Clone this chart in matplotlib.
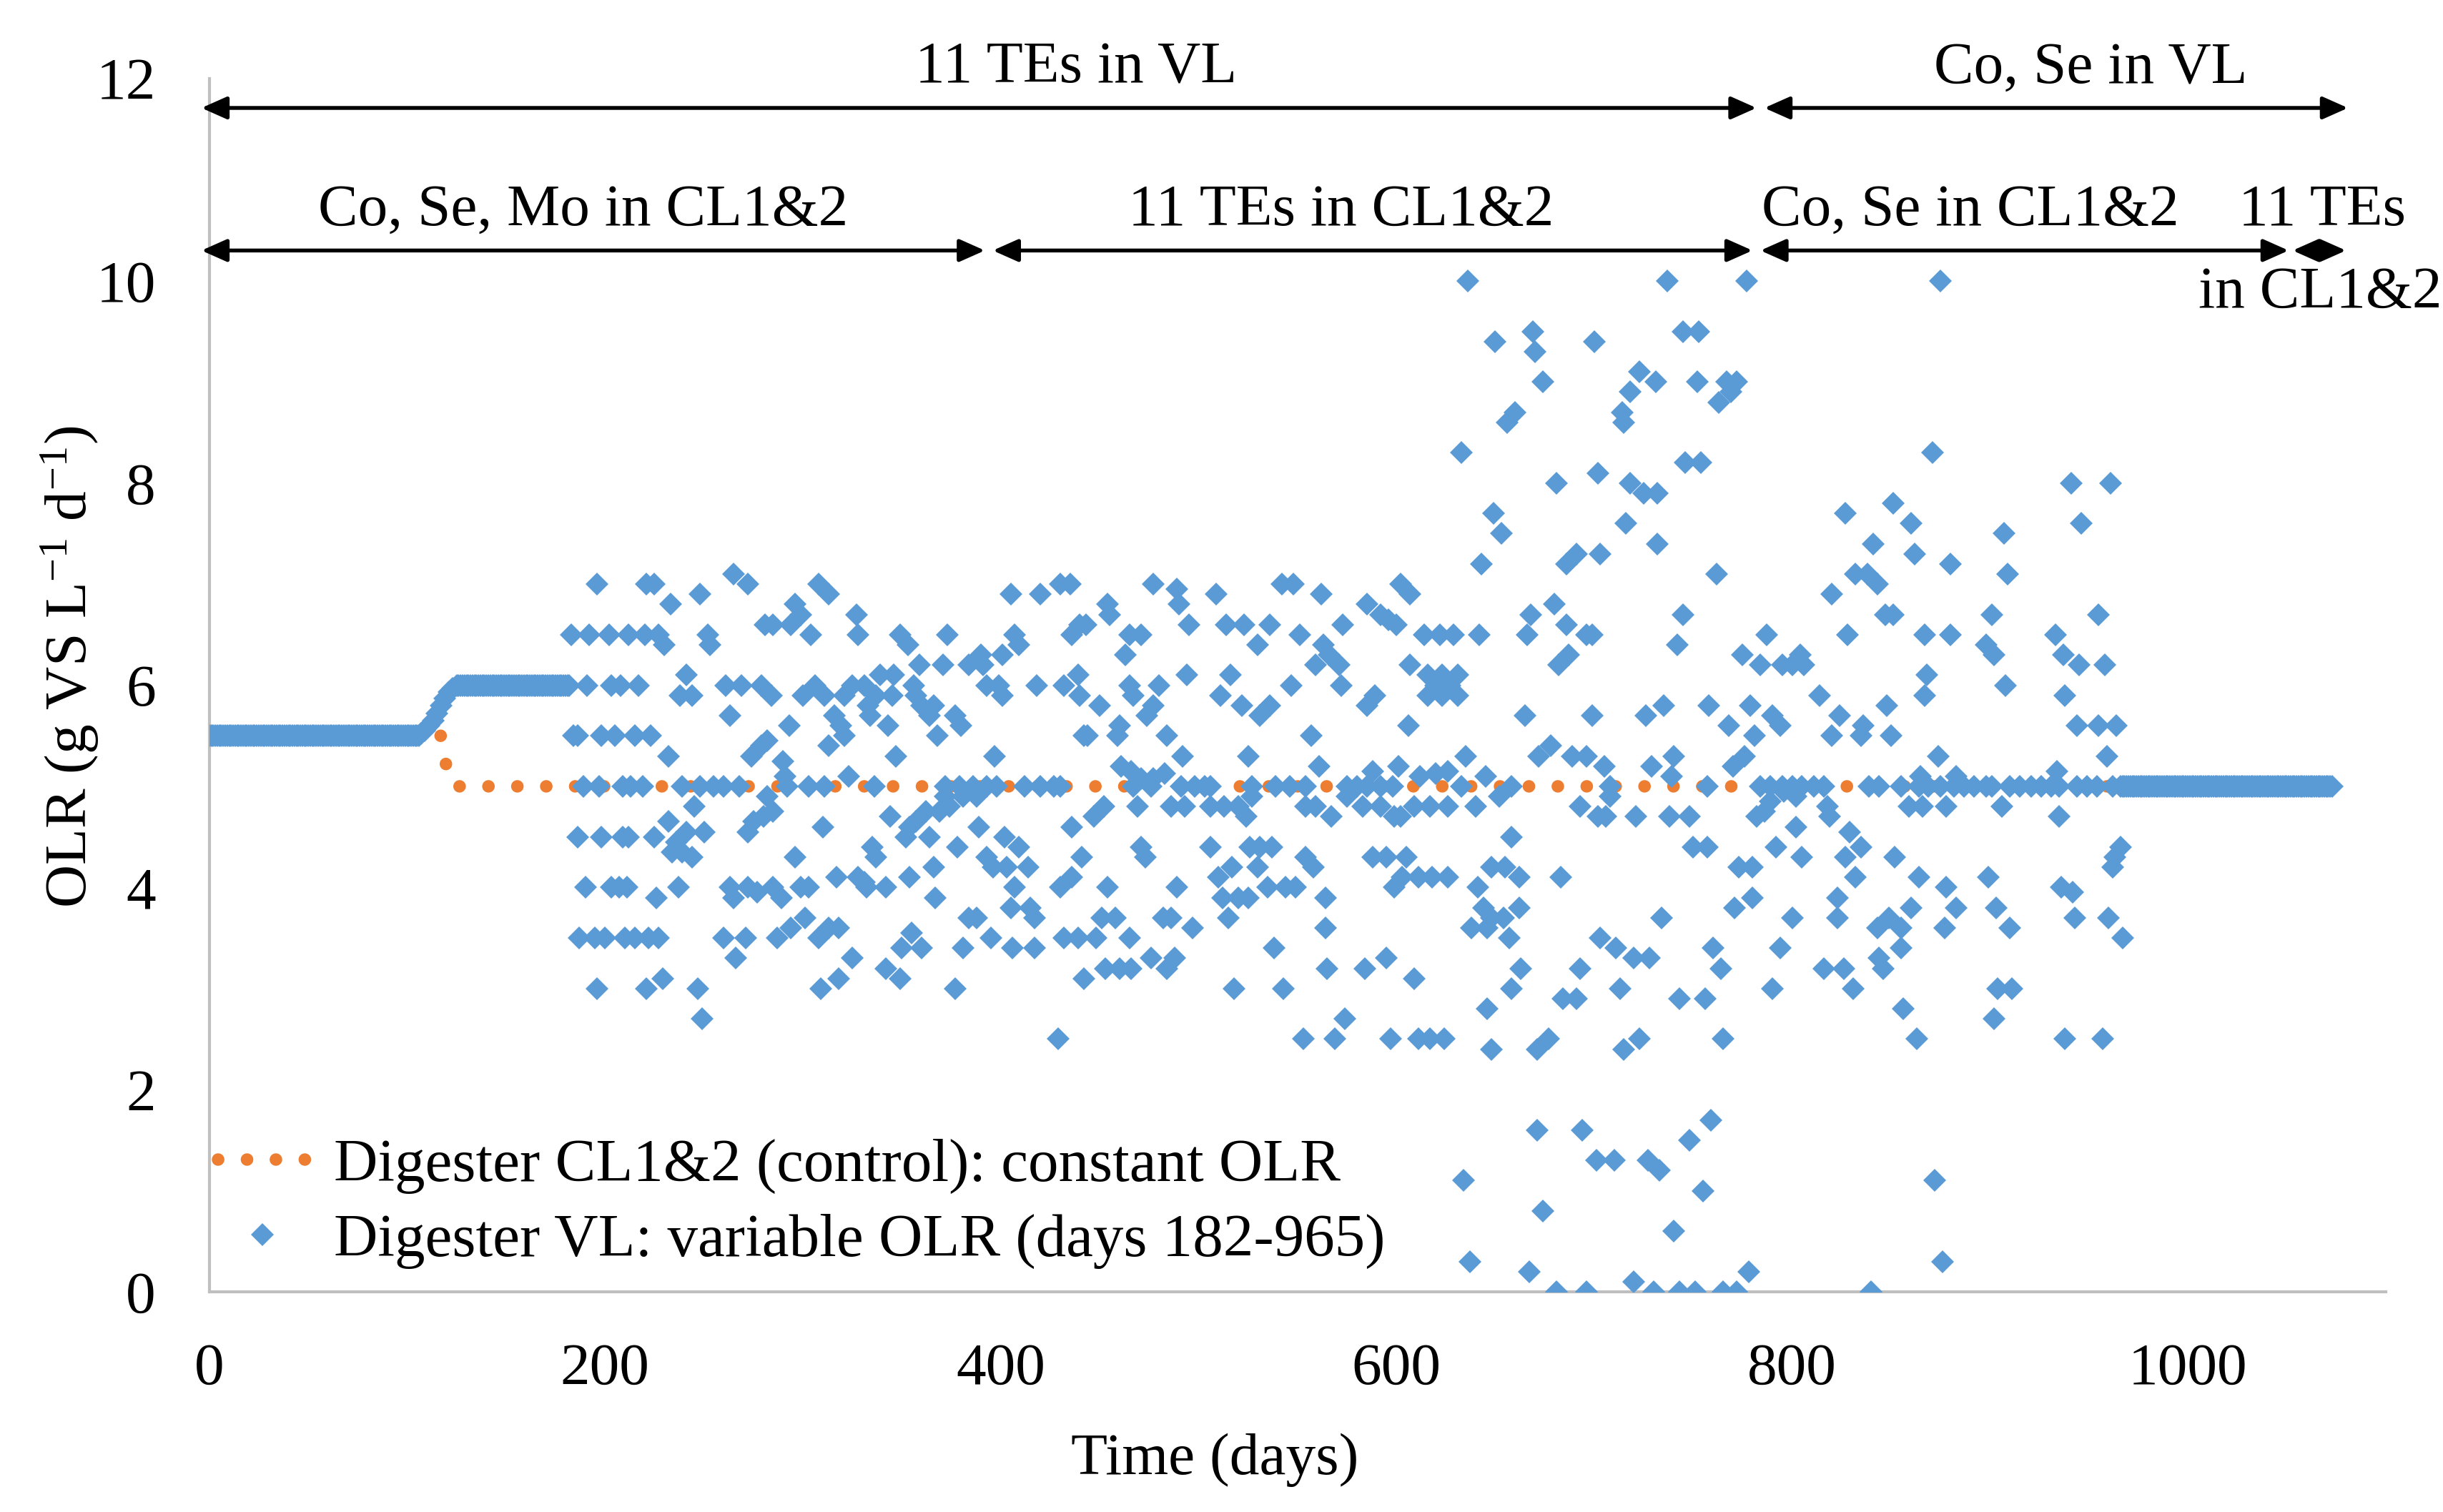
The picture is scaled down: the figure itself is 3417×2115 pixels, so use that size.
import numpy as np
import matplotlib
matplotlib.use("Agg")
import matplotlib.pyplot as plt

plt.rcParams['font.family'] = ['Liberation Serif', 'DejaVu Serif']
plt.rcParams['mathtext.fontset'] = 'custom'
plt.rcParams['mathtext.rm'] = 'Liberation Serif'
plt.rcParams['mathtext.it'] = 'Liberation Serif:italic'

BLUE = '#5B9BD5'
ORANGE = '#ED7D31'

# control digesters CL1&2 (constant OLR)
ctrl_days = [0, 117, 119, 124, 1073]
ctrl_olr = [5.5, 5.5, 5.25, 5.0, 5.0]

# digester VL: daily constant stretches (first day, last day, OLR)
vl_flat = [(0, 106, 5.5), (126, 182, 6.0), (966, 1073, 5.0)]
vl_ramp_days = [107, 109, 111, 113, 115, 117, 119, 121, 123, 125]
vl_ramp_olr = [5.52, 5.55, 5.6, 5.65, 5.72, 5.8, 5.87, 5.93, 5.97, 6.0]

# days of the variable period that sit at 5.0
vl_band_days = [189, 197, 209, 213, 219, 239, 248, 255, 260, 268, 292, 303, 311, 336,
                372, 379, 386, 393, 398, 412, 420, 427, 430,
                467, 476, 491, 498, 503, 506, 527, 539, 546, 554, 575, 580, 585, 592,
                598, 633, 658,
                708, 757, 784, 789, 795, 800, 805, 811, 816, 839, 844, 855, 864, 869,
                875, 882, 887, 892, 898, 901, 910, 915, 921, 926, 931, 935, 944, 949,
                954, 962]

# variable period
vl_var_days = [
    196, 221, 225, 233, 248, 265, 272, 308, 313, 405, 420, 430, 435, 296, 299, 327, 281, 285, 294,
    183, 192, 202, 212, 220, 227, 230, 252, 253, 304, 328, 349, 353, 373, 407, 409, 436, 440,
    359, 371, 384, 390, 391, 401, 191, 203, 208, 217, 241, 238, 244, 261, 269, 279, 284, 300,
    306, 311, 321, 325, 331, 339, 346, 337, 333, 345, 334, 343, 356, 357, 360, 366, 364, 368,
    377, 380, 393, 399, 401, 418, 432, 439, 440, 263, 293, 316, 319, 321, 313,
    184, 186, 198, 205, 215, 223, 232, 279, 282, 274, 290, 291, 347, 397, 323, 442,
    282, 245, 186, 198, 209, 212, 225, 232, 236, 234, 239, 244, 241, 250, 272, 275, 280, 285,
    310, 296, 344, 354, 357, 362, 352, 364, 369, 374, 372, 381, 388, 378, 389, 402, 409, 436,
    441, 335, 337, 317, 328, 331, 332, 342, 354, 366, 367, 393, 396, 403, 414, 407, 430, 436,
    190, 203, 207, 211, 226, 237, 263, 265, 272, 277, 285, 289, 299, 303, 405, 415, 417, 384, 388,
    187, 195, 200, 210, 215, 222, 227, 260, 271, 266, 287, 294, 301, 308, 313, 318, 325, 350,
    355, 360, 381, 395, 406, 417, 432, 439, 342, 349, 196, 221, 229, 247, 249, 309, 318, 377, 429, 442,
    636, 650, 669, 670, 700, 674, 660, 656, 633, 681, 702, 649, 653, 643, 691, 686, 703,
    477, 489, 490, 509, 542, 548, 562, 602, 607, 454, 455, 443, 465, 471, 463, 495, 514, 523,
    536, 530, 551, 573, 585, 592, 596, 600, 614, 622, 629, 642, 668, 666, 680, 686, 696, 699,
    687, 682, 563, 566, 571, 559, 572, 465, 467, 480, 494, 516, 511, 522, 536, 531, 547, 450,
    477, 474, 589, 585, 607, 616, 623, 631, 616, 623, 631, 620, 627, 606, 665, 699,
    444, 459, 460, 484, 492, 525, 557, 561, 461, 466, 471, 477, 483, 635, 601, 672, 678, 689, 696, 588, 612, 620, 626, 645,
    452, 447, 469, 486, 493, 506, 513, 520, 524, 527, 554, 559, 567, 575, 583, 592, 599, 602,
    609, 617, 626, 640, 652, 658, 693, 702, 471, 473, 454, 489, 506, 517, 510, 512, 520, 525,
    526, 531, 537, 530, 535, 544, 549, 554, 558, 564, 588, 595, 605, 599, 603, 611, 618, 626,
    648, 655, 662, 641, 683, 644, 648, 654, 662, 638, 646, 657, 703, 451, 458, 448, 465, 482,
    486, 497, 515, 538, 564, 453, 460, 466, 476, 484, 488, 518, 543, 565, 584, 595, 609, 663,
    658, 646, 693, 684, 691, 553, 569, 574, 597, 611, 617, 624, 648, 671, 677, 671, 694, 701,
    634, 674, 637, 667, 681, 696,
    737, 777, 875, 745, 753, 723, 731, 718, 714, 715, 752, 767, 772, 769, 763, 871, 746, 754,
    718, 725, 732, 716, 732, 762, 941, 961, 946, 827, 851, 860, 841, 862, 880, 907, 909, 832,
    838, 843, 820, 901, 955, 745, 847, 851, 742, 787, 828, 867, 880, 898, 902, 933, 937, 945,
    958, 775, 784, 795, 800, 804, 806, 868, 867, 908, 938, 814, 726, 735, 758, 768, 779, 790,
    794, 781, 824, 820, 836, 835, 848, 850, 944, 955, 964, 959, 705, 729, 740, 739, 770, 776,
    874, 865, 883, 934,
    708, 706, 721, 738, 748, 750, 757, 782, 786, 789, 796, 802, 802, 792, 805, 818, 819, 829,
    835, 827, 832, 773, 780, 780, 771, 734, 800, 823, 823, 843, 849, 855, 860, 852, 859, 866,
    878, 864, 878, 883, 877, 899, 903, 910, 906, 935, 936, 942, 943, 966, 963, 962, 960, 967,
    711, 720, 728, 760, 764, 794, 713, 743, 756, 790, 816, 826, 831, 844, 846, 855, 856, 863,
    904, 911, 902, 938, 957, 715, 723, 765, 759, 748, 710, 727, 733, 755, 740, 872, 876, 778,
    720, 730, 743, 751, 765, 772, 840,
]
vl_var_olr = [
    7.0, 7.0, 7.0, 6.8, 6.9, 7.1, 7.0, 7.0, 6.9, 6.9, 6.9, 7.0, 7.0, 6.8, 6.7, 6.7, 6.6, 6.6, 6.6,
    6.5, 6.5, 6.5, 6.5, 6.5, 6.5, 6.4, 6.5, 6.4, 6.5, 6.5, 6.5, 6.4, 6.5, 6.5, 6.4, 6.5, 6.6,
    6.2, 6.2, 6.2, 6.3, 6.2, 6.3, 6.0, 6.0, 6.0, 6.0, 6.1, 5.9, 5.9, 6.0, 6.0, 6.0, 5.9, 5.9,
    6.0, 5.9, 5.9, 6.0, 6.0, 6.1, 6.1, 5.9, 5.8, 5.9, 5.7, 5.6, 6.0, 5.9, 5.8, 5.8, 5.7, 5.5,
    5.7, 5.6, 6.0, 6.0, 5.9, 6.0, 6.0, 6.1, 5.9, 5.7, 5.6, 5.7, 5.6, 5.5, 5.4,
    5.5, 5.5, 5.5, 5.5, 5.5, 5.5, 5.3, 5.4, 5.45, 5.3, 5.25, 5.1, 5.3, 5.3, 5.1, 5.5,
    4.9, 4.8, 4.5, 4.5, 4.5, 4.5, 4.5, 4.65, 4.45, 4.35, 4.35, 4.3, 4.55, 4.55, 4.55, 4.65, 4.7, 4.75,
    4.6, 4.3, 4.7, 4.6, 4.65, 4.75, 4.5, 4.5, 4.75, 4.8, 4.9, 4.9, 4.9, 4.4, 4.6, 4.5, 4.4, 4.6,
    4.3, 4.4, 4.3, 4.1, 4.1, 4.05, 4.0, 4.0, 4.1, 4.2, 3.9, 4.3, 4.2, 4.2, 4.2, 4.0, 4.0, 4.1,
    4.0, 4.0, 4.0, 4.0, 3.9, 4.0, 4.0, 3.9, 4.0, 3.95, 4.0, 3.9, 4.0, 4.0, 3.8, 3.8, 3.7, 3.7, 3.7,
    3.5, 3.5, 3.5, 3.5, 3.5, 3.5, 3.5, 3.5, 3.5, 3.3, 3.5, 3.6, 3.7, 3.5, 3.6, 3.6, 3.3, 3.4,
    3.55, 3.4, 3.4, 3.5, 3.4, 3.4, 3.5, 3.5, 3.2, 3.1, 3.0, 3.0, 3.1, 3.0, 2.7, 3.0, 3.1, 3.0, 2.5, 3.1,
    10.0, 9.4, 9.5, 9.3, 9.4, 9.0, 8.7, 8.6, 8.3, 8.0, 8.1, 7.7, 7.5, 7.2, 7.3, 7.2, 7.3,
    7.0, 6.95, 6.8, 6.9, 7.0, 7.0, 6.9, 7.0, 6.9, 6.8, 6.7, 6.6, 6.5, 6.5, 6.3, 6.6, 6.6, 6.6,
    6.6, 6.4, 6.5, 6.6, 6.8, 6.7, 6.65, 6.6, 6.5, 6.5, 6.5, 6.5, 6.7, 6.5, 6.8, 6.6, 6.5, 6.5,
    6.3, 6.2, 6.4, 6.3, 6.2, 6.2, 6.0, 6.0, 5.9, 6.0, 6.1, 6.1, 5.9, 5.8, 5.8, 5.7, 6.0, 5.8,
    5.8, 5.7, 5.9, 5.8, 6.2, 6.1, 6.1, 6.1, 5.9, 5.9, 5.9, 6.0, 6.0, 5.6, 5.7, 5.7,
    5.5, 5.5, 5.6, 5.5, 5.3, 5.3, 5.5, 5.2, 5.2, 5.15, 5.08, 5.08, 5.13, 5.3, 5.2, 5.3, 5.4, 5.3, 5.3, 5.15, 5.1, 5.13, 5.15, 5.1,
    4.8, 4.7, 4.8, 4.8, 4.8, 4.8, 4.8, 4.8, 4.7, 4.9, 4.8, 4.8, 4.7, 4.9, 4.8, 4.8, 4.7, 4.7,
    4.8, 4.8, 4.8, 4.8, 4.9, 4.5, 4.8, 4.7, 4.4, 4.3, 4.0, 4.0, 4.4, 4.2, 4.1, 3.9, 3.9, 3.9,
    4.4, 4.4, 4.4, 4.2, 4.0, 4.0, 4.0, 4.3, 4.2, 3.9, 4.3, 4.3, 4.3, 4.0, 4.1, 4.1, 4.1, 4.1,
    4.2, 4.2, 4.1, 4.0, 4.1, 3.8, 3.7, 3.7, 3.8, 3.6, 3.6, 3.5, 3.5, 3.7, 3.7, 3.5, 3.5, 3.7,
    3.7, 3.6, 3.7, 3.4, 3.6, 3.2, 3.2, 3.2, 3.3, 3.2, 3.3, 3.0, 3.0, 3.2, 3.2, 3.3, 3.1, 3.2,
    3.0, 2.8, 3.2, 2.9, 2.9, 2.5, 2.5, 2.7, 2.5, 2.5, 2.5, 2.5, 2.4, 2.4, 2.5, 1.6, 1.6, 1.3,
    1.1, 0.8, 0.3, 0.2, 0.0, 0.0,
    10.0, 10.0, 10.0, 9.5, 9.5, 9.1, 9.0, 8.9, 8.7, 8.6, 9.0, 9.0, 9.0, 8.9, 8.8, 8.3, 8.2, 8.2,
    8.0, 7.9, 7.9, 7.6, 7.4, 7.1, 8.0, 8.0, 7.6, 7.7, 7.8, 7.6, 7.4, 7.3, 7.2, 7.5, 7.1, 7.1,
    7.1, 7.0, 6.9, 6.7, 6.7, 6.7, 6.7, 6.7, 6.4, 6.5, 6.5, 6.5, 6.5, 6.4, 6.3, 6.5, 6.3, 6.2,
    6.2, 6.3, 6.2, 6.2, 6.2, 6.3, 6.2, 6.1, 5.9, 6.0, 5.9, 5.9, 5.7, 5.8, 5.8, 5.6, 5.8, 5.7,
    5.6, 5.5, 5.7, 5.5, 5.6, 5.5, 5.8, 5.5, 5.6, 5.6, 5.6, 5.3, 5.2, 5.2, 5.3, 5.1, 5.2, 5.3,
    5.3, 5.1, 5.1, 5.15,
    4.9, 4.7, 4.7, 4.7, 4.7, 4.4, 4.4, 4.7, 4.75, 4.85, 4.95, 4.9, 4.6, 4.4, 4.3, 4.8, 4.7, 4.55,
    4.4, 4.3, 4.1, 4.2, 4.2, 3.9, 3.8, 3.7, 3.7, 3.9, 3.7, 3.6, 3.7, 3.6, 3.8, 4.3, 4.8, 4.8,
    4.8, 4.1, 4.0, 3.8, 3.6, 4.1, 3.8, 3.6, 4.8, 4.7, 4.0, 3.95, 3.7, 4.4, 4.3, 4.2, 3.7, 3.5,
    3.4, 3.3, 3.3, 3.4, 3.2, 3.4, 3.0, 2.9, 2.9, 3.0, 3.2, 3.2, 3.0, 3.3, 3.2, 3.4, 2.8, 2.5,
    3.0, 3.0, 2.7, 2.5, 2.5, 2.4, 2.5, 2.5, 1.7, 1.5, 1.3, 1.3, 1.2, 1.0, 0.6, 1.1, 0.3, 0.2,
    0.1, 0.0, 0.0, 0.0, 0.0, 0.0, 0.0,
]
assert len(vl_var_days) == len(vl_var_olr), (len(vl_var_days), len(vl_var_olr))

# phase arrows (start day, end day, y) and their labels (text, x, baseline y)
phase_arrows = [(-4, 782, 11.71), (786, 1081, 11.71),
                (-4, 392, 10.30), (396, 780, 10.30), (784, 1051, 10.30), (1053, 1080, 10.30)]
phase_labels = [("11 TEs in VL", 438, 11.96), ("Co, Se in VL", 951, 11.96),
                ("Co, Se, Mo in CL1&2", 189, 10.55), ("11 TEs in CL1&2", 572, 10.55),
                ("Co, Se in CL1&2", 890, 10.55), ("11 TEs", 1068, 10.55),
                ("in CL1&2", 1067, 9.74)]

# assemble VL series
vl_days = [np.arange(a, b + 1) for a, b, v in vl_flat]
vl_vals = [np.full(b - a + 1, v) for a, b, v in vl_flat]
vl_days += [np.array(vl_ramp_days), np.array(vl_band_days), np.array(vl_var_days)]
vl_vals += [np.array(vl_ramp_olr), np.full(len(vl_band_days), 5.0), np.array(vl_var_olr)]
vl_days = np.concatenate(vl_days)
vl_vals = np.concatenate(vl_vals)

fig = plt.figure(figsize=(3417 / 300, 2115 / 300), dpi=300)
ax = fig.add_axes([0.0857, 0.1456, 0.8908, 0.8024])

ax.plot(ctrl_days, ctrl_olr, color=ORANGE, lw=4.2, linestyle=(0, (0.01, 2.3)),
        dash_capstyle='round', label='Digester CL1&2 (control): constant OLR', zorder=2)
ax.plot(vl_days, vl_vals, linestyle='none', marker='D', ms=5.6, mew=0, color=BLUE,
        label='Digester VL: variable OLR (days 182-965)', zorder=3)

for x0, x1, y in phase_arrows:
    ax.annotate('', xy=(x1, y), xytext=(x0, y), annotation_clip=False,
                arrowprops=dict(arrowstyle='<|-|>,head_length=0.72,head_width=0.32',
                                mutation_scale=10, color='black', lw=1.3,
                                shrinkA=0, shrinkB=0))
for txt, x, y in phase_labels:
    ax.text(x, y, txt, ha='center', va='baseline', fontsize=20, clip_on=False)

ax.set_xlim(0, 1100)
ax.set_ylim(0, 12)
ax.set_xticks([0, 200, 400, 600, 800, 1000])
ax.set_yticks(np.arange(0, 13, 2))
ax.tick_params(axis='both', length=0, labelsize=20)
ax.tick_params(axis='y', pad=18)
ax.tick_params(axis='x', pad=17)

for s in ['top', 'right']:
    ax.spines[s].set_visible(False)
for s in ['left', 'bottom']:
    ax.spines[s].set_color('#BFBFBF')
    ax.spines[s].set_linewidth(1.0)

ax.set_xlabel('Time (days)', fontsize=20)
ax.xaxis.set_label_coords(0.462, -0.1165)
ax.set_ylabel(r'OLR (g VS L$^{\mathregular{-1}}$ d$^{\mathregular{-1}}$)', fontsize=20)
ax.yaxis.set_label_coords(-0.05, 0.515)

ax.legend(loc='lower left', bbox_to_anchor=(0.004, 0.019), frameon=False, fontsize=20.4,
          handlelength=1.45, handletextpad=0.45, labelspacing=0.32, borderpad=0,
          borderaxespad=0, numpoints=1)

fig.savefig('out.png', dpi=300)
